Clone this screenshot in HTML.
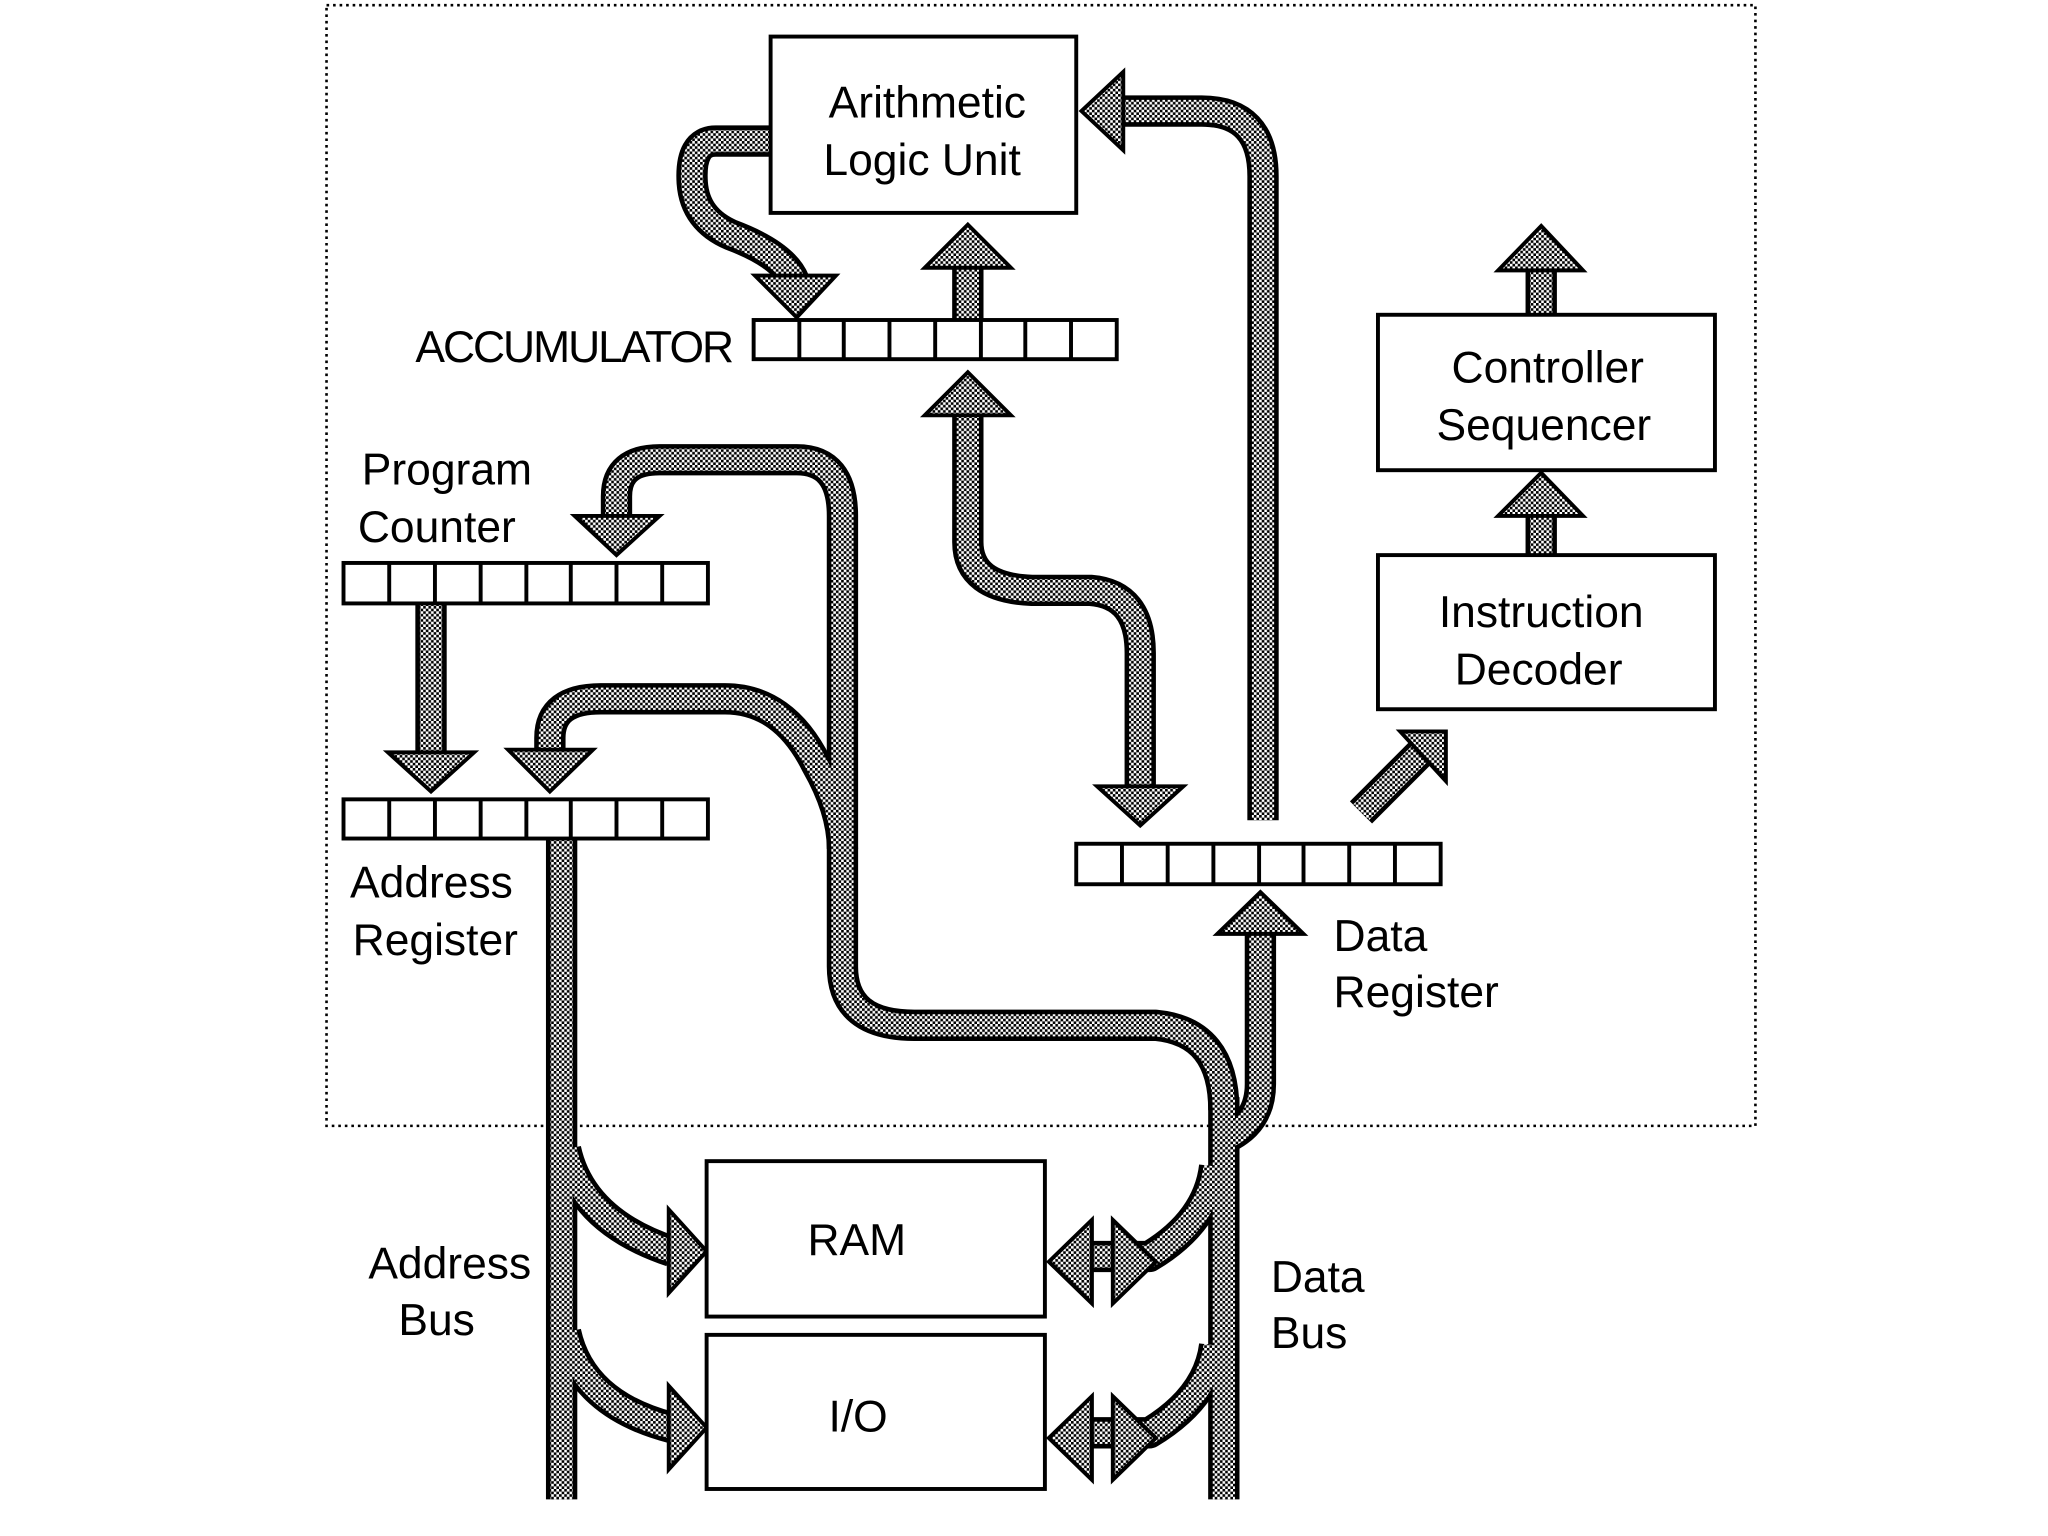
<!DOCTYPE html>
<html><head><meta charset="utf-8"><style>
html,body{margin:0;padding:0;background:#fff}
svg{display:block}
text{font-family:"Liberation Sans",sans-serif;font-size:34px;fill:#000}
</style></head><body>
<svg width="2048" height="1536" viewBox="0 0 1568 1176" xmlns="http://www.w3.org/2000/svg">
<defs>
<pattern id="ck" width="4" height="4" patternUnits="userSpaceOnUse">
<rect width="4" height="4" fill="#fff"/><rect width="2" height="2" fill="#000"/><rect x="2" y="2" width="2" height="2" fill="#000"/>
</pattern>
</defs>
<rect x="250" y="4" width="1094" height="858" fill="none" stroke="#000" stroke-width="2" stroke-dasharray="2 3"/>

<g fill="none" stroke-linejoin="round">
<g stroke="#000" stroke-width="24">
<path d="M590 108 H548 Q528 108 530 140 Q532 168 560 180 Q600 195 608 215"/>
<path d="M741 245 V203"/>
<path d="M967 628 V135 Q967 85 920 85 H858"/>
<path d="M741 316 V415 Q741 450 790 452 H835 Q873 455 873 500 V604"/>
<path d="M472 395 V380 Q472 352 505 352 H610 Q645 352 645 395 V740 Q645 785 700 785 H885 Q937 790 937 850"/>
<path d="M421 575 V565 Q421 535 460 535 H555 Q600 535 625 585 Q645 620 645 650"/>
<path d="M330 462 V577"/>
<path d="M430 642 V1148"/>
<path d="M937 840 V1148"/>
<path d="M937 872 Q965 860 965 830 V713"/>
<path d="M1042 622 L1090 574"/>
<path d="M1180 425 V393"/>
<path d="M1180 241 V205"/>
<path d="M433 880 Q445 935 514 958"/>
<path d="M433 1020 Q445 1075 514 1093"/>
<path d="M930 893 Q925 935 880 962 H834"/>
<path d="M930 1030 Q925 1070 880 1097 H834"/>
</g>
<g stroke="url(#ck)" stroke-width="17">
<path d="M590 108 H548 Q528 108 530 140 Q532 168 560 180 Q600 195 608 215"/>
<path d="M741 245 V203"/>
<path d="M967 628 V135 Q967 85 920 85 H858"/>
<path d="M741 316 V415 Q741 450 790 452 H835 Q873 455 873 500 V604"/>
<path d="M472 395 V380 Q472 352 505 352 H610 Q645 352 645 395 V740 Q645 785 700 785 H885 Q937 790 937 850"/>
<path d="M421 575 V565 Q421 535 460 535 H555 Q600 535 625 585 Q645 620 645 650"/>
<path d="M330 462 V577"/>
<path d="M430 642 V1148"/>
<path d="M937 840 V1148"/>
<path d="M937 872 Q965 860 965 830 V713"/>
<path d="M1042 622 L1090 574"/>
<path d="M1180 425 V393"/>
<path d="M1180 241 V205"/>
<path d="M433 880 Q445 935 514 958"/>
<path d="M433 1020 Q445 1075 514 1093"/>
<path d="M930 893 Q925 935 880 962 H834"/>
<path d="M930 1030 Q925 1070 880 1097 H834"/>
</g>
</g>

<g fill="url(#ck)" stroke="#000" stroke-width="3" stroke-linejoin="miter">
<polygon points="578,211 640,211 610,243"/>
<polygon points="708,205 774,205 741,172"/>
<polygon points="860,55 860,115 828,85"/>
<polygon points="708,318 774,318 741,285"/>
<polygon points="840,602 906,602 873,632"/>
<polygon points="440,395 505,395 472,425"/>
<polygon points="389,574 454,574 421,606"/>
<polygon points="297,576 363,576 330,606"/>
<polygon points="932,715 998,715 965,683"/>
<polygon points="1072,560 1107,560 1107,598"/>
<polygon points="1147,395 1212,395 1180,362"/>
<polygon points="1147,207 1212,207 1180,173"/>
<polygon points="512,926 512,990 541,958"/>
<polygon points="512,1061 512,1125 541,1093"/>
<polygon points="836,934 836,998 803,966"/>
<polygon points="852,934 852,998 885,966"/>
<polygon points="836,1069 836,1133 803,1101"/>
<polygon points="852,1069 852,1133 885,1101"/>
</g>

<g fill="#fff" stroke="#000" stroke-width="3">
<rect x="590" y="28" width="234" height="135"/>
<rect x="1055" y="241" width="258" height="119"/>
<rect x="1055" y="425" width="258" height="118"/>
<rect x="541" y="889" width="259" height="119"/>
<rect x="541" y="1022" width="259" height="118"/>
</g>

<g fill="#fff" stroke="#000" stroke-width="3">
<rect x="577" y="245" width="278" height="30"/>
<rect x="263" y="431" width="279" height="31"/>
<rect x="263" y="612" width="279" height="30"/>
<rect x="824" y="646" width="279" height="31"/>
</g>
<g stroke="#000" stroke-width="3">
<path d="M612 245v30M646 245v30M681 245v30M716 245v30M751 245v30M785 245v30M820 245v30"/>
<path d="M298 431v31M333 431v31M368 431v31M403 431v31M437 431v31M472 431v31M507 431v31"/>
<path d="M298 612v30M333 612v30M368 612v30M403 612v30M437 612v30M472 612v30M507 612v30"/>
<path d="M859 646v31M894 646v31M929 646v31M964 646v31M998 646v31M1033 646v31M1068 646v31"/>
</g>

<text x="710" y="90" text-anchor="middle">Arithmetic</text>
<text x="706" y="134" text-anchor="middle">Logic Unit</text>
<text x="318" y="277" textLength="244">ACCUMULATOR</text>
<text x="277" y="371">Program</text>
<text x="274" y="415">Counter</text>
<text x="268" y="687">Address</text>
<text x="270" y="731">Register</text>
<text x="1021" y="728">Data</text>
<text x="1021" y="771">Register</text>
<text x="1185" y="293" text-anchor="middle">Controller</text>
<text x="1182" y="337" text-anchor="middle">Sequencer</text>
<text x="1180" y="480" text-anchor="middle">Instruction</text>
<text x="1178" y="524" text-anchor="middle">Decoder</text>
<text x="656" y="961" text-anchor="middle">RAM</text>
<text x="657" y="1096" text-anchor="middle">I/O</text>
<text x="282" y="979">Address</text>
<text x="305" y="1022">Bus</text>
<text x="973" y="989">Data</text>
<text x="973" y="1032">Bus</text>
</svg>
</body></html>
